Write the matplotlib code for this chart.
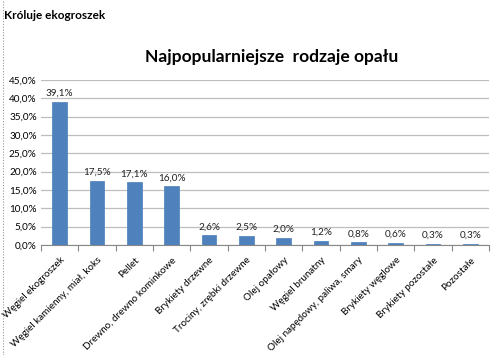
import numpy as np
import matplotlib.pyplot as plt
from matplotlib.ticker import FuncFormatter, FixedLocator
from matplotlib.lines import Line2D

plt.rcParams['font.family'] = ['Lato', 'DejaVu Sans']

# --- DATA ---
categories = [
    "Węgiel ekogroszek", "Węgiel kamienny, miał, koks", "Pellet",
    "Drewno, drewno kominkowe", "Brykiety drzewne", "Trociny, zrębki drzewne",
    "Olej opałowy", "Węgiel brunatny", "Olej napędowy, paliwa, smary",
    "Brykiety węglowe", "Brykiety pozostałe", "Pozostałe",
]
shares = [39.1, 17.5, 17.1, 16.0, 2.6, 2.5, 2.0, 1.2, 0.8, 0.6, 0.3, 0.3]
y_ticks = [0, 5, 10, 15, 20, 25, 30, 35, 40, 45]

def pl_pct(v, pos=None):
    return f"{v:.1f}%".replace('.', ',')

fig = plt.figure(figsize=(5, 3.55), dpi=100)
ax = fig.add_axes([0.082, 0.31, 0.896, 0.465])

x = np.arange(len(categories))
ax.bar(x, shares, width=0.4, color='#4F81BD', edgecolor='#4A7EBB', linewidth=0.5, zorder=3)

for xi, v in zip(x, shares):
    ax.text(xi, v + 1.0, pl_pct(v), ha='center', va='bottom', fontsize=7.2, color='#222222')

ax.set_xlim(-0.5, len(categories) - 0.5)
ax.set_ylim(0, 45)
ax.set_yticks(y_ticks)
ax.yaxis.set_major_formatter(FuncFormatter(pl_pct))
ax.tick_params(axis='y', length=0, labelsize=7.2, pad=3)
ax.grid(axis='y', color='#BEBEBE', linewidth=0.9, zorder=0)

# category labels at bar centres, tick marks between categories
ax.set_xticks(x)
ax.set_xticklabels(categories, rotation=45, ha='right', rotation_mode='anchor', fontsize=7.1)
ax.tick_params(axis='x', which='major', length=0, pad=7.5)
ax.xaxis.set_minor_locator(FixedLocator(np.arange(-0.5, len(categories), 1)))
ax.tick_params(axis='x', which='minor', length=4, color='#888888', width=0.8)

for s in ['top', 'right', 'left']:
    ax.spines[s].set_visible(False)
ax.spines['bottom'].set_color('#888888')

fig.text(0.544, 0.84, "Najpopularniejsze  rodzaje opału", ha='center', va='center',
         fontsize=12.5, fontweight='bold')
fig.text(0.008, 0.957, "Króluje ekogroszek", ha='left', va='center', fontsize=8.5, fontweight='bold')

# dashed frame line on the left edge
fig.add_artist(Line2D([0.005, 0.005], [0, 1], transform=fig.transFigure,
                      color='#999999', linewidth=0.8, linestyle=(0, (1, 1.5))))

fig.savefig('out.png', dpi=100)
